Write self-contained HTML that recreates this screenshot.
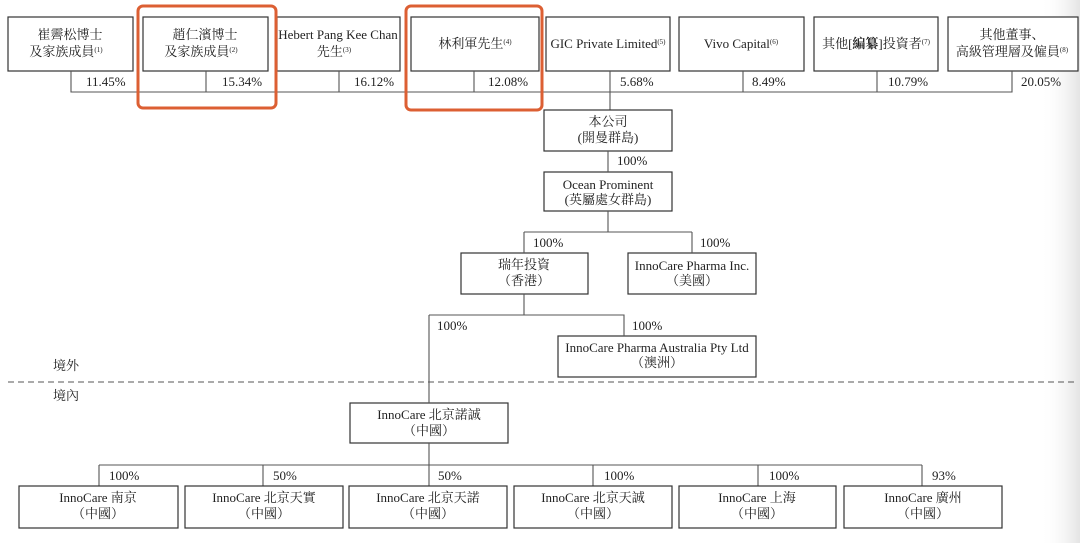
<!DOCTYPE html>
<html><head><meta charset="utf-8"><style>
html,body{margin:0;padding:0;background:#fff;}
svg{display:block;}
text{font-family:"Liberation Serif","Noto Serif CJK SC","Noto Sans CJK TC",serif;font-size:13px;fill:#222;}
.b{fill:#fff;stroke:#333;stroke-width:1.2;}
.l{stroke:#555;stroke-width:1.1;fill:none;}
</style></head><body>
<svg width="1080" height="543" viewBox="0 0 1080 543" xmlns="http://www.w3.org/2000/svg">
<defs><linearGradient id="g" x1="0" x2="1"><stop offset="0" stop-color="#fff" stop-opacity="0"/><stop offset="1" stop-color="#e4e4e4"/></linearGradient></defs>
<rect x="1040" y="0" width="40" height="543" fill="url(#g)"/>
<rect class="b" x="8" y="17" width="125" height="54"/>
<rect class="b" x="143" y="17" width="125" height="54"/>
<rect class="b" x="277" y="17" width="123" height="54"/>
<rect class="b" x="411" y="17" width="128" height="54"/>
<rect class="b" x="546" y="17" width="124" height="54"/>
<rect class="b" x="679" y="17" width="125" height="54"/>
<rect class="b" x="814" y="17" width="124" height="54"/>
<rect class="b" x="948" y="17" width="130" height="54"/>
<g text-anchor="middle">
<text x="70" y="39">崔霽松博士</text><text x="66" y="56">及家族成員<tspan font-size="7" dy="-4">(1)</tspan></text>
<text x="205" y="39">趙仁濱博士</text><text x="201" y="56">及家族成員<tspan font-size="7" dy="-4">(2)</tspan></text>
<text x="338" y="39">Hebert Pang Kee Chan</text><text x="334" y="56">先生<tspan font-size="7" dy="-4">(3)</tspan></text>
<text x="475" y="48">林利軍先生<tspan font-size="7" dy="-4">(4)</tspan></text>
<text x="608" y="48">GIC Private Limited<tspan font-size="7" dy="-4">(5)</tspan></text>
<text x="741" y="48">Vivo Capital<tspan font-size="7" dy="-4">(6)</tspan></text>
<text x="876" y="48">其他[<tspan font-weight="bold">編纂</tspan>]投資者<tspan font-size="7" dy="-4">(7)</tspan></text>
<text x="1012" y="39">其他董事、</text><text x="1012" y="56">高級管理層及僱員<tspan font-size="7" dy="-4">(8)</tspan></text>
</g>
<path class="l" d="M71 71V92H1012V71 M206 71V92 M339 71V92 M474 71V92 M610 71V110 M743 71V92 M877 71V92"/>
<g>
<text x="86" y="86">11.45%</text><text x="222" y="86">15.34%</text><text x="354" y="86">16.12%</text><text x="488" y="86">12.08%</text>
<text x="620" y="86">5.68%</text><text x="752" y="86">8.49%</text><text x="888" y="86">10.79%</text><text x="1021" y="86">20.05%</text>
</g>
<rect x="138" y="6" width="138" height="102" rx="5" fill="none" stroke="#dc5f33" stroke-width="3"/>
<rect x="406" y="6" width="136" height="104" rx="5" fill="none" stroke="#dc5f33" stroke-width="3"/>
<rect class="b" x="544" y="110" width="128" height="41"/>
<rect class="b" x="544" y="172" width="128" height="39"/>
<rect class="b" x="461" y="253" width="127" height="41"/>
<rect class="b" x="628" y="253" width="128" height="41"/>
<rect class="b" x="558" y="336" width="198" height="41"/>
<rect class="b" x="350" y="403" width="158" height="40"/>
<path class="l" d="M608 151V172 M608 211V232 M524 232H692 M524 232V253 M692 232V253 M524 294V315 M429 315H624V336 M429 315V403 M429 443V465 M99 465H922 M99 465V486 M263 465V486 M429 465V486 M593 465V486 M758 465V486 M922 465V486"/>
<line x1="8" y1="382" x2="1075" y2="382" stroke="#555" stroke-width="1.1" stroke-dasharray="6,4"/>
<g text-anchor="middle">
<text x="608" y="126">本公司</text><text x="608" y="142">(開曼群島)</text>
<text x="608" y="189">Ocean Prominent</text><text x="608" y="204">(英屬處女群島)</text>
<text x="524" y="269">瑞年投資</text><text x="524" y="285">（香港）</text>
<text x="692" y="270">InnoCare Pharma Inc.</text><text x="692" y="285">（美國）</text>
<text x="657" y="352">InnoCare Pharma Australia Pty Ltd</text><text x="657" y="367">（澳洲）</text>
<text x="429" y="419">InnoCare 北京諾誠</text><text x="429" y="435">（中國）</text>
</g>
<text x="617" y="165">100%</text><text x="533" y="247">100%</text><text x="700" y="247">100%</text>
<text x="437" y="330">100%</text><text x="632" y="330">100%</text>
<text x="53" y="370">境外</text><text x="53" y="400">境內</text>
<rect class="b" x="19" y="486" width="159" height="42"/>
<rect class="b" x="185" y="486" width="158" height="42"/>
<rect class="b" x="349" y="486" width="158" height="42"/>
<rect class="b" x="514" y="486" width="158" height="42"/>
<rect class="b" x="679" y="486" width="157" height="42"/>
<rect class="b" x="844" y="486" width="158" height="42"/>
<g text-anchor="middle">
<text x="98" y="502">InnoCare 南京</text><text x="98" y="518">（中國）</text>
<text x="264" y="502">InnoCare 北京天實</text><text x="264" y="518">（中國）</text>
<text x="428" y="502">InnoCare 北京天諾</text><text x="428" y="518">（中國）</text>
<text x="593" y="502">InnoCare 北京天誠</text><text x="593" y="518">（中國）</text>
<text x="757" y="502">InnoCare 上海</text><text x="757" y="518">（中國）</text>
<text x="923" y="502">InnoCare 廣州</text><text x="923" y="518">（中國）</text>
</g>
<text x="109" y="480">100%</text><text x="273" y="480">50%</text><text x="438" y="480">50%</text>
<text x="604" y="480">100%</text><text x="769" y="480">100%</text><text x="932" y="480">93%</text>
</svg>
</body></html>
